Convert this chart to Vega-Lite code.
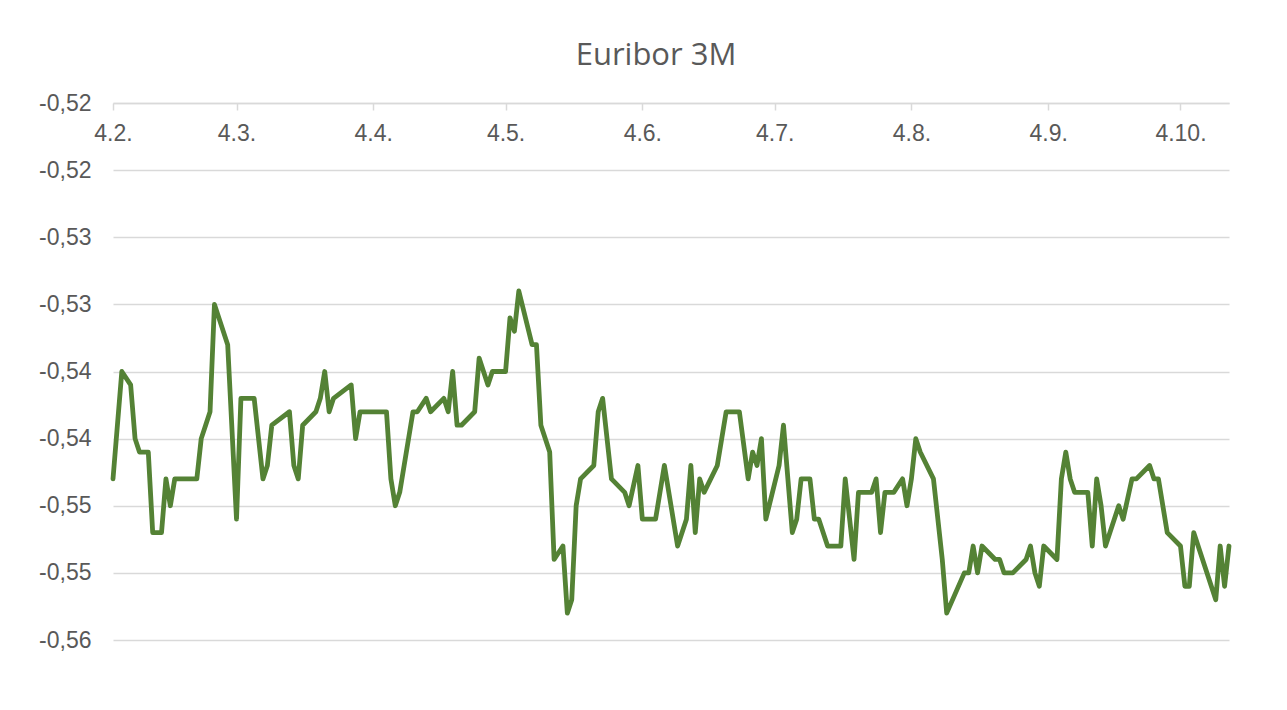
{
  "$schema": "https://vega.github.io/schema/vega-lite/v6.json",
  "width": 1116,
  "height": 537,
  "autosize": {"type": "none"},
  "padding": {"left": 113, "top": 103, "right": 58, "bottom": 70},
  "background": "white",
  "title": {"text": "Euribor 3M", "font": "Open Sans", "fontSize": 31, "fontWeight": "normal", "color": "#595959", "anchor": "middle", "frame": "group", "dx": -15, "offset": 20},
  "data": {"values": [
    {"date": "2021-02-04", "value": -0.543},
    {"date": "2021-02-06", "value": -0.535},
    {"date": "2021-02-08", "value": -0.536},
    {"date": "2021-02-09", "value": -0.540},
    {"date": "2021-02-10", "value": -0.541},
    {"date": "2021-02-12", "value": -0.541},
    {"date": "2021-02-13", "value": -0.547},
    {"date": "2021-02-15", "value": -0.547},
    {"date": "2021-02-16", "value": -0.543},
    {"date": "2021-02-17", "value": -0.545},
    {"date": "2021-02-18", "value": -0.543},
    {"date": "2021-02-23", "value": -0.543},
    {"date": "2021-02-24", "value": -0.540},
    {"date": "2021-02-25", "value": -0.539},
    {"date": "2021-02-26", "value": -0.538},
    {"date": "2021-02-27", "value": -0.530},
    {"date": "2021-03-02", "value": -0.533},
    {"date": "2021-03-04", "value": -0.546},
    {"date": "2021-03-05", "value": -0.537},
    {"date": "2021-03-08", "value": -0.537},
    {"date": "2021-03-10", "value": -0.543},
    {"date": "2021-03-11", "value": -0.542},
    {"date": "2021-03-12", "value": -0.539},
    {"date": "2021-03-16", "value": -0.538},
    {"date": "2021-03-17", "value": -0.542},
    {"date": "2021-03-18", "value": -0.543},
    {"date": "2021-03-19", "value": -0.539},
    {"date": "2021-03-22", "value": -0.538},
    {"date": "2021-03-23", "value": -0.537},
    {"date": "2021-03-24", "value": -0.535},
    {"date": "2021-03-25", "value": -0.538},
    {"date": "2021-03-26", "value": -0.537},
    {"date": "2021-03-30", "value": -0.536},
    {"date": "2021-03-31", "value": -0.540},
    {"date": "2021-04-01", "value": -0.538},
    {"date": "2021-04-07", "value": -0.538},
    {"date": "2021-04-08", "value": -0.543},
    {"date": "2021-04-09", "value": -0.545},
    {"date": "2021-04-10", "value": -0.544},
    {"date": "2021-04-13", "value": -0.538},
    {"date": "2021-04-14", "value": -0.538},
    {"date": "2021-04-16", "value": -0.537},
    {"date": "2021-04-17", "value": -0.538},
    {"date": "2021-04-20", "value": -0.537},
    {"date": "2021-04-21", "value": -0.538},
    {"date": "2021-04-22", "value": -0.535},
    {"date": "2021-04-23", "value": -0.539},
    {"date": "2021-04-24", "value": -0.539},
    {"date": "2021-04-27", "value": -0.538},
    {"date": "2021-04-28", "value": -0.534},
    {"date": "2021-04-30", "value": -0.536},
    {"date": "2021-05-01", "value": -0.535},
    {"date": "2021-05-04", "value": -0.535},
    {"date": "2021-05-05", "value": -0.531},
    {"date": "2021-05-06", "value": -0.532},
    {"date": "2021-05-07", "value": -0.529},
    {"date": "2021-05-10", "value": -0.533},
    {"date": "2021-05-11", "value": -0.533},
    {"date": "2021-05-12", "value": -0.539},
    {"date": "2021-05-14", "value": -0.541},
    {"date": "2021-05-15", "value": -0.549},
    {"date": "2021-05-17", "value": -0.548},
    {"date": "2021-05-18", "value": -0.553},
    {"date": "2021-05-19", "value": -0.552},
    {"date": "2021-05-20", "value": -0.545},
    {"date": "2021-05-21", "value": -0.543},
    {"date": "2021-05-24", "value": -0.542},
    {"date": "2021-05-25", "value": -0.538},
    {"date": "2021-05-26", "value": -0.537},
    {"date": "2021-05-28", "value": -0.543},
    {"date": "2021-05-31", "value": -0.544},
    {"date": "2021-06-01", "value": -0.545},
    {"date": "2021-06-03", "value": -0.542},
    {"date": "2021-06-04", "value": -0.546},
    {"date": "2021-06-07", "value": -0.546},
    {"date": "2021-06-09", "value": -0.542},
    {"date": "2021-06-12", "value": -0.548},
    {"date": "2021-06-14", "value": -0.546},
    {"date": "2021-06-15", "value": -0.542},
    {"date": "2021-06-16", "value": -0.547},
    {"date": "2021-06-17", "value": -0.543},
    {"date": "2021-06-18", "value": -0.544},
    {"date": "2021-06-21", "value": -0.542},
    {"date": "2021-06-22", "value": -0.540},
    {"date": "2021-06-23", "value": -0.538},
    {"date": "2021-06-26", "value": -0.538},
    {"date": "2021-06-28", "value": -0.543},
    {"date": "2021-06-29", "value": -0.541},
    {"date": "2021-06-30", "value": -0.542},
    {"date": "2021-07-01", "value": -0.540},
    {"date": "2021-07-02", "value": -0.546},
    {"date": "2021-07-05", "value": -0.542},
    {"date": "2021-07-06", "value": -0.539},
    {"date": "2021-07-08", "value": -0.547},
    {"date": "2021-07-09", "value": -0.546},
    {"date": "2021-07-10", "value": -0.543},
    {"date": "2021-07-12", "value": -0.543},
    {"date": "2021-07-13", "value": -0.546},
    {"date": "2021-07-14", "value": -0.546},
    {"date": "2021-07-16", "value": -0.548},
    {"date": "2021-07-19", "value": -0.548},
    {"date": "2021-07-20", "value": -0.543},
    {"date": "2021-07-22", "value": -0.549},
    {"date": "2021-07-23", "value": -0.544},
    {"date": "2021-07-26", "value": -0.544},
    {"date": "2021-07-27", "value": -0.543},
    {"date": "2021-07-28", "value": -0.547},
    {"date": "2021-07-29", "value": -0.544},
    {"date": "2021-07-31", "value": -0.544},
    {"date": "2021-08-02", "value": -0.543},
    {"date": "2021-08-03", "value": -0.545},
    {"date": "2021-08-04", "value": -0.543},
    {"date": "2021-08-05", "value": -0.540},
    {"date": "2021-08-06", "value": -0.541},
    {"date": "2021-08-09", "value": -0.543},
    {"date": "2021-08-11", "value": -0.549},
    {"date": "2021-08-12", "value": -0.553},
    {"date": "2021-08-16", "value": -0.550},
    {"date": "2021-08-17", "value": -0.550},
    {"date": "2021-08-18", "value": -0.548},
    {"date": "2021-08-19", "value": -0.550},
    {"date": "2021-08-20", "value": -0.548},
    {"date": "2021-08-23", "value": -0.549},
    {"date": "2021-08-24", "value": -0.549},
    {"date": "2021-08-25", "value": -0.550},
    {"date": "2021-08-27", "value": -0.550},
    {"date": "2021-08-30", "value": -0.549},
    {"date": "2021-08-31", "value": -0.548},
    {"date": "2021-09-01", "value": -0.550},
    {"date": "2021-09-02", "value": -0.551},
    {"date": "2021-09-03", "value": -0.548},
    {"date": "2021-09-06", "value": -0.549},
    {"date": "2021-09-07", "value": -0.543},
    {"date": "2021-09-08", "value": -0.541},
    {"date": "2021-09-09", "value": -0.543},
    {"date": "2021-09-10", "value": -0.544},
    {"date": "2021-09-13", "value": -0.544},
    {"date": "2021-09-14", "value": -0.548},
    {"date": "2021-09-15", "value": -0.543},
    {"date": "2021-09-16", "value": -0.545},
    {"date": "2021-09-17", "value": -0.548},
    {"date": "2021-09-20", "value": -0.545},
    {"date": "2021-09-21", "value": -0.546},
    {"date": "2021-09-23", "value": -0.543},
    {"date": "2021-09-24", "value": -0.543},
    {"date": "2021-09-27", "value": -0.542},
    {"date": "2021-09-28", "value": -0.543},
    {"date": "2021-09-29", "value": -0.543},
    {"date": "2021-10-01", "value": -0.547},
    {"date": "2021-10-04", "value": -0.548},
    {"date": "2021-10-05", "value": -0.551},
    {"date": "2021-10-06", "value": -0.551},
    {"date": "2021-10-07", "value": -0.547},
    {"date": "2021-10-12", "value": -0.552},
    {"date": "2021-10-13", "value": -0.548},
    {"date": "2021-10-14", "value": -0.551},
    {"date": "2021-10-15", "value": -0.548}
  ]},
  "mark": {"type": "line", "color": "#548235", "strokeWidth": 4.8, "strokeJoin": "round", "strokeCap": "round"},
  "encoding": {
    "x": {
      "field": "date",
      "type": "temporal",
      "scale": {"type": "utc", "domain": [{"year": 2021, "month": 2, "date": 4, "utc": true}, {"year": 2021, "month": 10, "date": 15, "utc": true}]},
      "axis": {
        "orient": "bottom",
        "offset": -537,
        "title": null,
        "values": [
          {"year": 2021, "month": 2, "date": 4, "utc": true},
          {"year": 2021, "month": 3, "date": 4, "utc": true},
          {"year": 2021, "month": 4, "date": 4, "utc": true},
          {"year": 2021, "month": 5, "date": 4, "utc": true},
          {"year": 2021, "month": 6, "date": 4, "utc": true},
          {"year": 2021, "month": 7, "date": 4, "utc": true},
          {"year": 2021, "month": 8, "date": 4, "utc": true},
          {"year": 2021, "month": 9, "date": 4, "utc": true},
          {"year": 2021, "month": 10, "date": 4, "utc": true}
        ],
        "labelExpr": "utcFormat(datum.value, '%-d.%-m.')",
        "grid": false,
        "domainColor": "#d9d9d9",
        "domainWidth": 1.5,
        "tickColor": "#d9d9d9",
        "tickWidth": 1.5,
        "tickSize": 7,
        "labelPadding": 12,
        "labelFont": "Liberation Sans",
        "labelFontSize": 23,
        "labelColor": "#595959",
        "labelFlush": false,
        "labelOverlap": false
      }
    },
    "y": {
      "field": "value",
      "type": "quantitative",
      "scale": {"domain": [-0.555, -0.515], "nice": false, "zero": false},
      "axis": {
        "title": null,
        "values": [-0.515, -0.52, -0.525, -0.53, -0.535, -0.54, -0.545, -0.55, -0.555],
        "format": ".2f",
        "grid": true,
        "gridColor": "#d9d9d9",
        "gridWidth": 1.5,
        "domain": false,
        "ticks": false,
        "labelPadding": 22,
        "labelFont": "Liberation Sans",
        "labelFontSize": 23,
        "labelColor": "#595959"
      }
    }
  },
  "config": {
    "view": {"stroke": null},
    "locale": {"number": {"decimal": ",", "thousands": " ", "grouping": [3], "currency": ["", " €"], "minus": "-"}}
  }
}
